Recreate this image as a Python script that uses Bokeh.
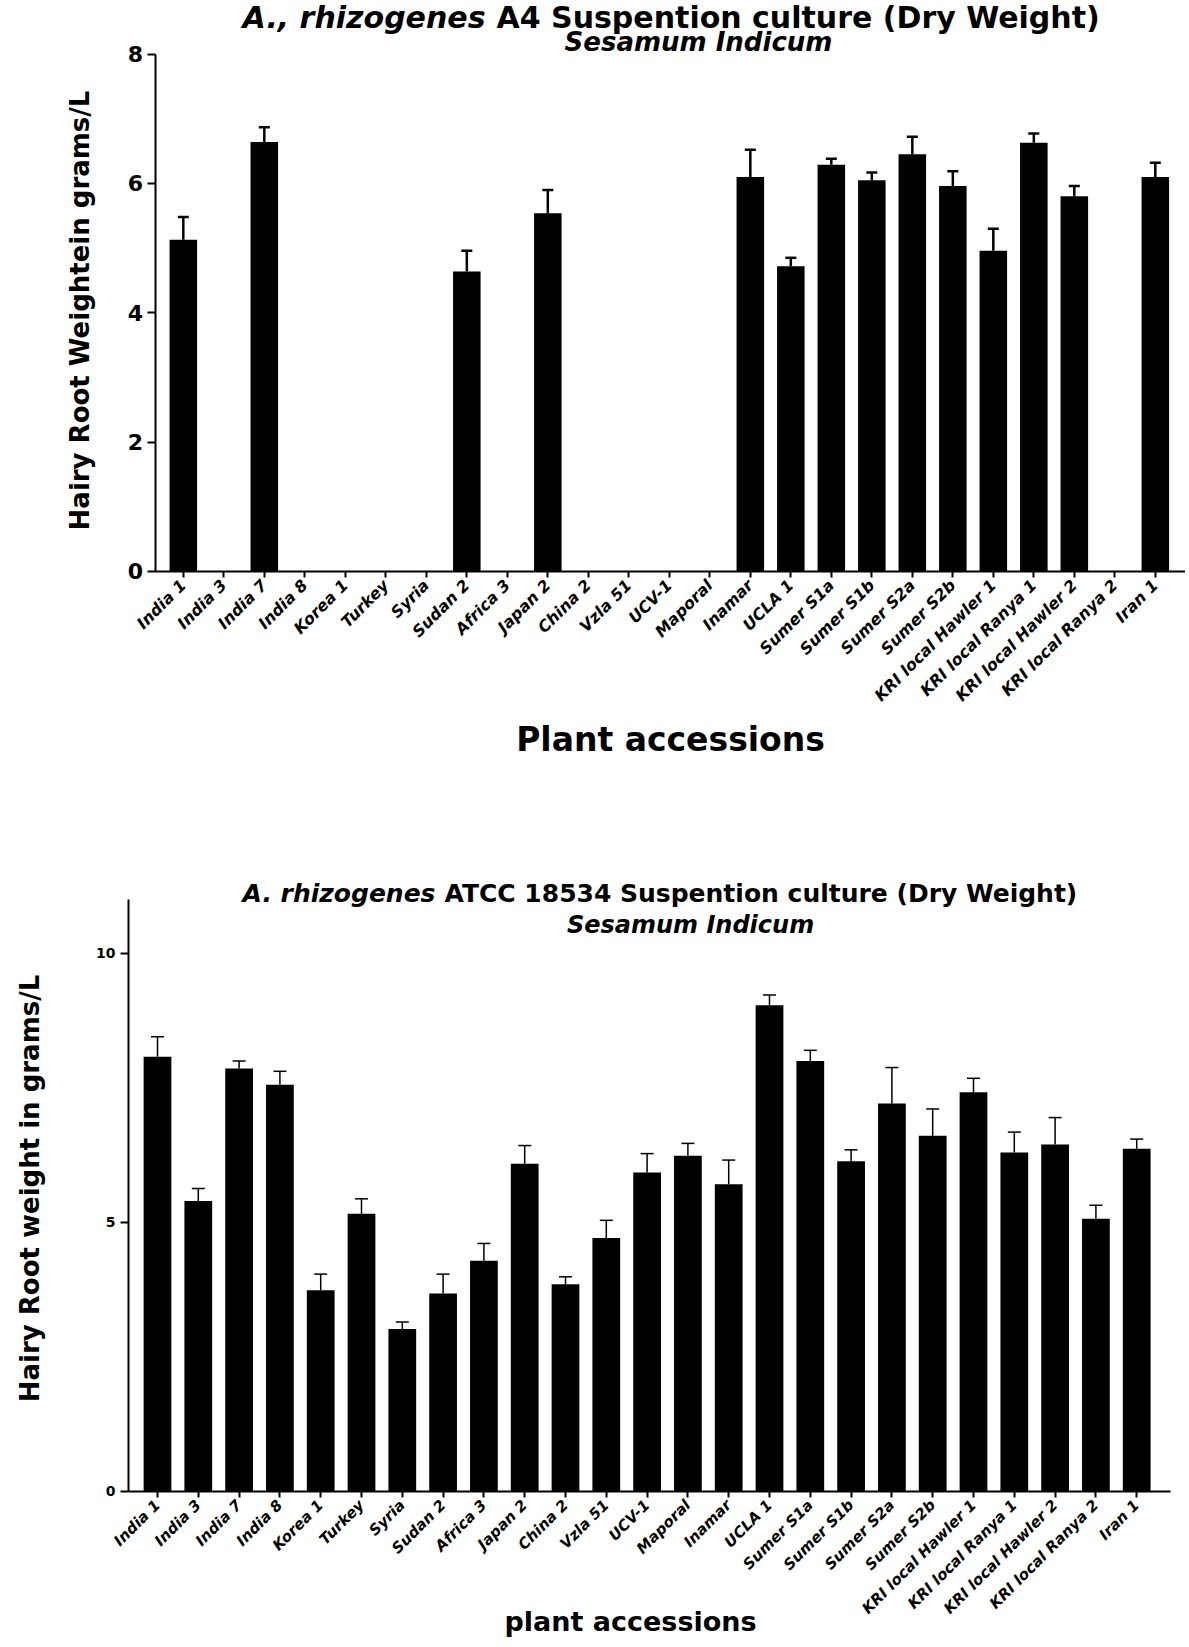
import math
from bokeh.plotting import figure
from bokeh.models import ColumnDataSource, FixedTicker, Whisker, TeeHead, Label, Range1d
from bokeh.layouts import column
from bokeh.embed import file_html
from bokeh.resources import INLINE

# ---------------- data ----------------
accessions = ["India 1", "India 3", "India 7", "India 8", "Korea 1", "Turkey", "Syria",
              "Sudan 2", "Africa 3", "Japan 2", "China 2", "Vzla 51", "UCV-1", "Maporal",
              "Inamar", "UCLA 1", "Sumer S1a", "Sumer S1b", "Sumer S2a", "Sumer S2b",
              "KRI local Hawler 1", "KRI local Ranya 1", "KRI local Hawler 2",
              "KRI local Ranya 2", "Iran 1"]

a4_weight = [5.13, 0, 6.64, 0, 0, 0, 0, 4.64, 0, 5.54, 0, 0, 0, 0,
             6.10, 4.72, 6.29, 6.05, 6.45, 5.96, 4.96, 6.63, 5.80, 0, 6.10]
a4_error = [0.35, 0, 0.23, 0, 0, 0, 0, 0.32, 0, 0.36, 0, 0, 0, 0,
            0.42, 0.13, 0.09, 0.12, 0.27, 0.23, 0.34, 0.14, 0.16, 0, 0.22]

atcc_weight = [8.08, 5.40, 7.86, 7.56, 3.74, 5.16, 3.02, 3.68, 4.29, 6.09, 3.85, 4.71,
               5.93, 6.24, 5.71, 9.04, 8.00, 6.14, 7.21, 6.61, 7.42, 6.30, 6.45, 5.07, 6.37]
atcc_error = [0.37, 0.23, 0.14, 0.25, 0.30, 0.28, 0.13, 0.36, 0.32, 0.34, 0.14, 0.33,
              0.35, 0.23, 0.45, 0.19, 0.20, 0.21, 0.67, 0.50, 0.26, 0.38, 0.50, 0.25, 0.18]

a4_yticks = [0, 2, 4, 6, 8]
atcc_yticks = [0, 5, 10]

FONT = "DejaVu Sans"


def build(values, errors, yticks, ybounds, xbounds, width, height, xr, yr,
          bar_width, tick_font, ytick_font, whisker_w, cap):
    idx = list(range(len(accessions)))
    p = figure(width=width, height=height, x_range=Range1d(*xr), y_range=Range1d(*yr),
               output_backend="svg", toolbar_location=None,
               min_border_left=0, min_border_right=0,
               min_border_top=0, min_border_bottom=0)
    p.outline_line_color = None
    p.xgrid.visible = False
    p.ygrid.visible = False
    p.background_fill_color = "white"

    src = ColumnDataSource(dict(x=idx, val=values, name=accessions))
    p.vbar(x="x", top="val", width=bar_width, source=src, fill_color="black",
           line_color=None)

    wx = [i for i, v in zip(idx, values) if v > 0]
    wl = [v for v in values if v > 0]
    wu = [v + e for v, e in zip(values, errors) if v > 0]
    wsrc = ColumnDataSource(dict(x=wx, lower=wl, upper=wu))
    w = Whisker(base="x", lower="lower", upper="upper", source=wsrc, dimension="height",
                line_color="black", line_width=whisker_w,
                lower_head=None,
                upper_head=TeeHead(size=cap, line_color="black", line_width=whisker_w))
    p.add_layout(w)

    xa = p.xaxis[0]
    xa.fixed_location = 0
    xa.bounds = xbounds
    xa.ticker = FixedTicker(ticks=idx)
    xa.major_label_overrides = {i: n for i, n in enumerate(accessions)}
    xa.major_label_orientation = math.pi / 4
    xa.major_label_text_font = FONT
    xa.major_label_text_font_style = "bold italic"
    xa.major_label_text_font_size = tick_font
    xa.major_label_text_color = "black"
    xa.major_tick_in = 0
    xa.major_tick_out = 6
    xa.minor_tick_line_color = None
    xa.axis_line_width = 2
    xa.major_tick_line_width = 2
    xa.axis_line_color = "black"

    ya = p.yaxis[0]
    ya.fixed_location = xbounds[0]
    ya.bounds = ybounds
    ya.ticker = FixedTicker(ticks=yticks)
    ya.major_label_text_font = FONT
    ya.major_label_text_font_style = "bold"
    ya.major_label_text_font_size = ytick_font
    ya.major_label_text_color = "black"
    ya.major_tick_in = 0
    ya.major_tick_out = 8
    ya.minor_tick_line_color = None
    ya.axis_line_width = 2
    ya.major_tick_line_width = 2
    return p


def add_text(p, x, y, text, size, style, align="center", baseline="alphabetic",
             xoff=0, angle=0):
    p.add_layout(Label(x=x, y=y, text=text, text_font=FONT, text_font_size=size,
                       text_font_style=style, text_align=align, text_baseline=baseline,
                       x_offset=xoff, angle=angle, text_color="black"))


# ---------------- top chart: A4 ----------------
p1 = build(a4_weight, a4_error, a4_yticks, (0, 8), (-0.675, 24.74), 1185, 840,
           (-4.514, 24.745), (-4.159, 8.828), 0.68, "16px", "22px", 2.5, 11)
add_text(p1, 12.054, 8.56, "A., rhizogenes", "30px", "bold italic", align="right", xoff=-186)
add_text(p1, 12.054, 8.56, "A4 Suspention culture (Dry Weight)", "30px", "bold",
         align="left", xoff=-175)
add_text(p1, 12.72, 8.19, "Sesamum Indicum", "26px", "bold italic")
add_text(p1, -2.563, 4.035, "Hairy Root Weightein grams/L", "26px", "bold",
         baseline="middle", angle=math.pi / 2)
add_text(p1, 12.03, -2.60, "Plant accessions", "33px", "bold", baseline="middle")

# ---------------- bottom chart: ATCC 18534 ----------------
p2 = build(atcc_weight, atcc_error, atcc_yticks, (0, 11), (-0.71, 24.82), 1185, 807,
           (-3.848, 25.196), (-2.9, 12.10), 0.68, "15px", "14px", 1.5, 13)
add_text(p2, 12.353, 11.108, "A. rhizogenes", "25px", "bold italic", align="right", xoff=-226)
add_text(p2, 12.353, 11.108, "ATCC 18534 Suspention culture (Dry Weight)", "25px", "bold",
         align="left", xoff=-217)
add_text(p2, 13.064, 10.532, "Sesamum Indicum", "24px", "bold italic")
add_text(p2, -3.113, 5.632, "Hairy Root weight in grams/L", "26px", "bold",
         baseline="middle", angle=math.pi / 2)
add_text(p2, 11.593, -2.416, "plant accessions", "27px", "bold", baseline="middle")

layout = column(p1, p2, spacing=0)
open("out.html", "w").write(file_html(layout, INLINE))
